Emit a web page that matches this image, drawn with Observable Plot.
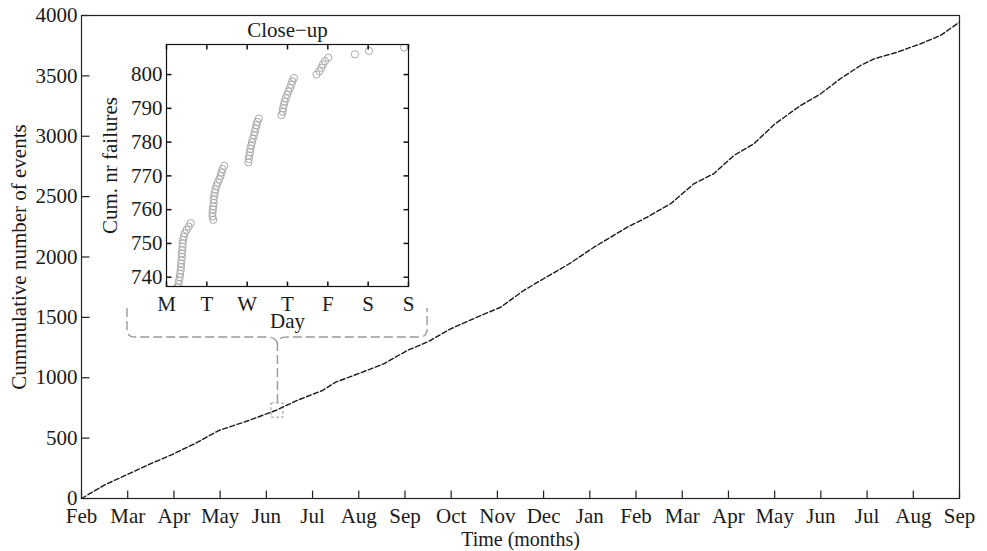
<!DOCTYPE html>
<html>
<head>
<meta charset="utf-8">
<script src="https://cdn.jsdelivr.net/npm/d3@7"></script>
<script src="https://cdn.jsdelivr.net/npm/@observablehq/plot@0.6"></script>
<style>
  body { margin: 0; background: #fff; }
  #wrap { position: relative; width: 987px; height: 551px; }
  #wrap svg { position: absolute; }
</style>
</head>
<body>
<div id="wrap"></div>
<script>
// Month tick labels, Feb of year one through Sep of year two
const monthLabels = ["Feb","Mar","Apr","May","Jun","Jul","Aug","Sep","Oct","Nov","Dec",
                     "Jan","Feb","Mar","Apr","May","Jun","Jul","Aug","Sep"];
const monthTicks = monthLabels.map((_, i) => i);
const countTicks = [0, 500, 1000, 1500, 2000, 2500, 3000, 3500, 4000];

// Cumulative number of events (month offset since start, count)
const eventMonth = [0, 0.52, 1.02, 1.49, 1.96, 2.47, 2.97, 3.3, 3.62, 4.2, 4.63, 5.21, 5.5, 5.89,
  6.54, 7.05, 7.48, 7.99, 8.56, 9.07, 9.57, 10.0, 10.58, 11.09, 11.81, 12.24, 12.75, 13.25,
  13.68, 14.12, 14.55, 15.0, 15.56, 15.99, 16.42, 16.86, 17.15, 17.65, 18.16, 18.59, 19.0];
const eventCount = [0, 116, 204, 287, 364, 458, 563, 605, 646, 729, 806, 894, 963, 1019,
  1115, 1226, 1295, 1405, 1502, 1584, 1723, 1820, 1950, 2081, 2247, 2330, 2441, 2606,
  2689, 2841, 2938, 3100, 3255, 3350, 3476, 3586, 3641, 3696, 3766, 3835, 3945];

// Close-up week: day of week (0 = Monday) of each failure and the running count
const closeDay = [
  0.27, 0.30, 0.31, 0.33, 0.34, 0.35, 0.36, 0.36, 0.37, 0.38, 0.38, 0.39, 0.40, 0.40, 0.41, 0.43, 0.45, 0.50, 0.55, 0.60,
  1.16, 1.14, 1.14, 1.15, 1.16, 1.17, 1.17, 1.18, 1.20, 1.21, 1.24, 1.27, 1.31, 1.34, 1.36, 1.39, 1.43,
  2.03, 2.04, 2.05, 2.07, 2.08, 2.10, 2.12, 2.14, 2.17, 2.19, 2.21, 2.23, 2.25, 2.29,
  2.85, 2.88, 2.89, 2.91, 2.93, 2.96, 2.99, 3.02, 3.06, 3.09, 3.12, 3.16,
  3.72, 3.79, 3.84, 3.88, 3.93, 4.01,
  4.67, 5.02, 5.89];
const closeCount = [
  737, 738, 739, 740, 741, 742, 743, 744, 745, 746, 747, 748, 749, 750, 751, 752, 753, 754, 755, 756,
  757, 758, 759, 760, 761, 762, 763, 764, 765, 766, 767, 768, 769, 770, 771, 772, 773,
  774, 775, 776, 777, 778, 779, 780, 781, 782, 783, 784, 785, 786, 787,
  788, 789, 790, 791, 792, 793, 794, 795, 796, 797, 798, 799,
  800, 801, 802, 803, 804, 805,
  806, 807, 808];
const dayLabels = ["M", "T", "W", "T", "F", "S", "S"];
const dayTicks = dayLabels.map((_, i) => i);
const failureTicks = [740, 750, 760, 770, 780, 790, 800];

// Where the close-up week sits on the main timeline, and the callout bracket
const closeUpMonths = [4.11, 4.37];
const closeUpCounts = [670, 787];
const bracketMonths = [0.995, 7.49];
const bracketCounts = [1333, 1574];
const bracketTip = [4.24, 1292];

const series = eventMonth.map((m, i) => ({month: m, count: eventCount[i]}));
const closeup = closeDay.map((d, i) => ({day: d, count: closeCount[i]}));

// Inward tick marks drawn as custom dot symbols
const tickSym = (dx, dy) => ({draw(ctx) { ctx.moveTo(0, 0); ctx.lineTo(dx, dy); }});

const FONT = "Liberation Serif, Times New Roman, serif";
const INK = "#1a1a1a";
const FS = 21;

const main = Plot.plot({
  width: 987, height: 551,
  marginLeft: 81, marginRight: 28, marginTop: 15, marginBottom: 53,
  x: {domain: [0, 19], axis: null},
  y: {domain: [0, 4000], axis: null},
  style: {fontFamily: FONT, fontSize: FS + "px", color: INK, background: "white"},
  marks: [
    Plot.rect([0], {x1: closeUpMonths[0], x2: closeUpMonths[1], y1: closeUpCounts[0], y2: closeUpCounts[1],
      fill: "none", stroke: "#999", strokeWidth: 1, strokeDasharray: "3,2"}),
    Plot.ruleX([bracketTip[0]], {y1: closeUpCounts[1], y2: bracketTip[1],
      stroke: "#999", strokeWidth: 1.4, strokeDasharray: "9,4"}),
    Plot.line(series, {x: "month", y: "count", stroke: INK, strokeWidth: 1.4, strokeDasharray: "5,2.5"}),
    Plot.frame({stroke: "#222", strokeWidth: 1.2}),
    Plot.dot(monthTicks, {x: d => d, frameAnchor: "bottom", symbol: tickSym(0, -8), fill: "none", stroke: "#222", strokeWidth: 1.2}),
    Plot.dot(countTicks, {y: d => d, frameAnchor: "left", symbol: tickSym(8, 0), fill: "none", stroke: "#222", strokeWidth: 1.2}),
    Plot.text(monthTicks, {x: d => d, text: i => monthLabels[i], frameAnchor: "bottom", dy: 18, lineAnchor: "middle", textAnchor: "middle", fontSize: FS}),
    Plot.text(countTicks, {y: d => d, text: d => String(d), frameAnchor: "left", dx: -4, textAnchor: "end", fontSize: FS}),
    Plot.text(["Time (months)"], {text: d => d, frameAnchor: "bottom", dy: 41, lineAnchor: "middle", textAnchor: "middle", fontSize: 20}),
    Plot.text(["Cummulative number of events"], {text: d => d, frameAnchor: "left", dx: -62, rotate: -90, lineAnchor: "middle", textAnchor: "middle", fontSize: FS})
  ]
});
main.style.left = "0px";
main.style.top = "0px";

// Rounded callout bracket with a brace pointing down to the close-up window
{
  const sx = main.scale("x"), sy = main.scale("y");
  const L = sx.apply(bracketMonths[0]), R = sx.apply(bracketMonths[1]);
  const B = sy.apply(bracketCounts[0]), T = sy.apply(bracketCounts[1]);
  const C = sx.apply(bracketTip[0]), tipY = sy.apply(bracketTip[1]);
  const r = 8;
  const p = d3.path();
  p.moveTo(L, T);
  p.lineTo(L, B - r);
  p.quadraticCurveTo(L, B, L + r, B);
  p.lineTo(C - 10, B);
  p.quadraticCurveTo(C - 2, B, C, tipY);
  p.quadraticCurveTo(C + 2, B, C + 10, B);
  p.lineTo(R - r, B);
  p.quadraticCurveTo(R, B, R, B - r);
  p.lineTo(R, T);
  d3.select(main).append("path")
    .attr("d", p.toString())
    .attr("fill", "none")
    .attr("stroke", "#999")
    .attr("stroke-width", 1.4)
    .attr("stroke-dasharray", "9,4");
}

const inset = Plot.plot({
  width: 326, height: 340,
  marginLeft: 76, marginRight: 8, marginTop: 44, marginBottom: 54,
  x: {domain: [0, 6], axis: null},
  y: {domain: [737.25, 808.9], axis: null},
  style: {fontFamily: FONT, fontSize: FS + "px", color: INK, background: "none"},
  marks: [
    Plot.dot(closeup, {x: "day", y: "count", r: 3.6, fill: "none", stroke: "#a8a8a8", strokeWidth: 1, clip: true}),
    Plot.frame({stroke: "#111", strokeWidth: 1.2}),
    Plot.dot(dayTicks, {x: d => d, frameAnchor: "bottom", symbol: tickSym(0, -5), fill: "none", stroke: "#111"}),
    Plot.dot(dayTicks, {x: d => d, frameAnchor: "top", symbol: tickSym(0, 5), fill: "none", stroke: "#111"}),
    Plot.dot(failureTicks, {y: d => d, frameAnchor: "left", symbol: tickSym(5, 0), fill: "none", stroke: "#111"}),
    Plot.dot(failureTicks, {y: d => d, frameAnchor: "right", symbol: tickSym(-5, 0), fill: "none", stroke: "#111"}),
    Plot.text(dayTicks, {x: d => d, text: i => dayLabels[i], frameAnchor: "bottom", dy: 17.5, lineAnchor: "middle", textAnchor: "middle", fontSize: FS}),
    Plot.text(failureTicks, {y: d => d, text: d => String(d), frameAnchor: "left", dx: -4, textAnchor: "end", fontSize: FS}),
    Plot.text(["Day"], {text: d => d, frameAnchor: "bottom", dy: 35, lineAnchor: "middle", textAnchor: "middle", fontSize: FS}),
    Plot.text(["Close\u2212up"], {text: d => d, frameAnchor: "top", dy: -14, lineAnchor: "middle", textAnchor: "middle", fontSize: FS}),
    Plot.text(["Cum. nr failures"], {text: d => d, frameAnchor: "left", dx: -56, rotate: -90, lineAnchor: "middle", textAnchor: "middle", fontSize: FS})
  ]
});
inset.style.left = "90px";
inset.style.top = "0px";

const wrap = document.getElementById("wrap");
wrap.appendChild(main);
wrap.appendChild(inset);
</script>
</body>
</html>
